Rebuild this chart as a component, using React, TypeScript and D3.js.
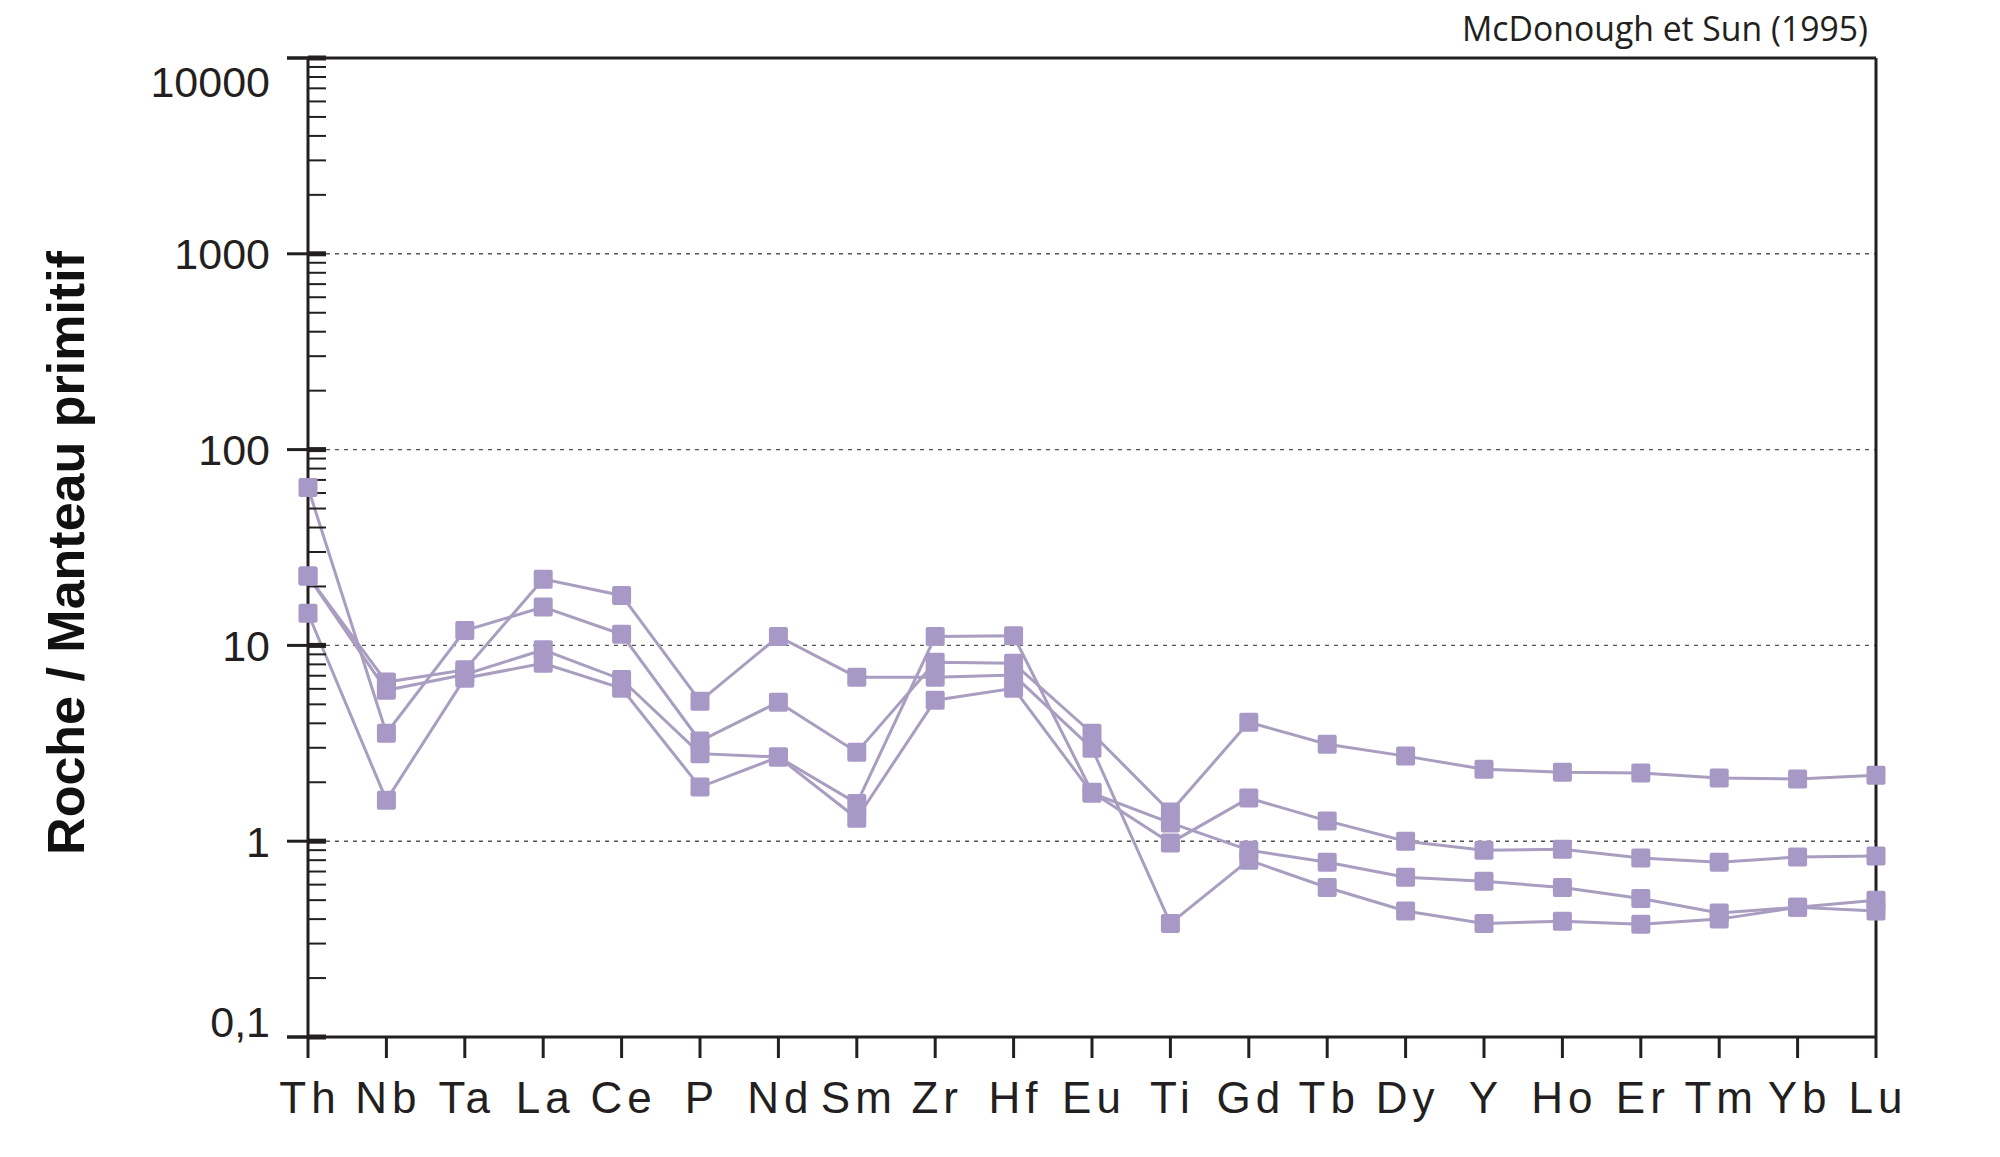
import * as d3 from 'd3';

// Spider diagram, normalised to primitive mantle (McDonough & Sun 1995)
const ELEMENTS = ['Th', 'Nb', 'Ta', 'La', 'Ce', 'P', 'Nd', 'Sm', 'Zr', 'Hf', 'Eu', 'Ti', 'Gd', 'Tb', 'Dy', 'Y', 'Ho', 'Er', 'Tm', 'Yb', 'Lu'];

// values (rock / primitive mantle)
const SAMPLE_1 = [64, 3.56, 11.9, 15.7, 11.4, 3.25, 5.13, 2.85, 8.2, 8.1, 3.56, 1.41, 4.05, 3.13, 2.72, 2.33, 2.25, 2.23, 2.1, 2.08, 2.17];
const SAMPLE_2 = [22.6, 6.5, 7.5, 21.8, 18, 5.19, 11.1, 6.88, 6.88, 7.05, 2.98, 0.38, 0.8, 0.58, 0.44, 0.38, 0.39, 0.377, 0.4, 0.46, 0.44];
const SAMPLE_3 = [22.6, 5.9, 7.1, 9.5, 6.7, 2.8, 2.69, 1.56, 11.1, 11.2, 1.78, 0.98, 1.66, 1.27, 1.0, 0.9, 0.91, 0.82, 0.78, 0.83, 0.84];
const SAMPLE_4 = [14.6, 1.62, 6.8, 8.1, 6.04, 1.89, 2.69, 1.31, 5.25, 6.04, 1.76, 1.24, 0.9, 0.78, 0.655, 0.625, 0.58, 0.51, 0.43, 0.46, 0.5];
const SAMPLES = [SAMPLE_1, SAMPLE_2, SAMPLE_3, SAMPLE_4];

const Y_TICKS = [0.1, 1, 10, 100, 1000, 10000];
const Y_TICK_LABELS = ['0,1', '1', '10', '100', '1000', '10000'];
const GRID_VALUES = [1, 10, 100, 1000];

const width = 2000;
const height = 1157;
const left = 308;
const right = 1876;
const top = 58;
const bottom = 1037;

const INK = '#231f20';
const MARKER = '#a898c6';
const LINE = '#a99dc0';

export default function App() {
  const x = d3.scalePoint<string>().domain(ELEMENTS).range([left, right]);
  const y = d3.scaleLog().domain([0.1, 10000]).range([bottom, top]);

  const line = d3
    .line<number>()
    .x((_, i) => x(ELEMENTS[i]) as number)
    .y((d) => y(d));

  // minor ticks 2..9 in every decade
  const minor: number[] = [];
  for (let e = -1; e < 4; e++) {
    for (let k = 2; k <= 9; k++) minor.push(k * Math.pow(10, e));
  }

  const sq = 19;

  return (
    <div style={{ position: 'absolute', left: 0, top: 0 }}>
      <svg width={width} height={height} style={{ display: 'block', background: '#fff' }}>
        {/* grid */}
        {GRID_VALUES.map((v) => (
          <line key={'g' + v} x1={left + 18} x2={right} y1={y(v)} y2={y(v)}
            stroke="#555" strokeWidth={1.4} strokeDasharray="4,5" />
        ))}

        {/* series lines */}
        {SAMPLES.map((s, i) => (
          <path key={'l' + i} d={line(s) ?? ''} fill="none" stroke={LINE} strokeWidth={3} />
        ))}

        {/* frame */}
        <line x1={left - 21} x2={right} y1={top} y2={top} stroke={INK} strokeWidth={3} />
        <line x1={right} x2={right} y1={top} y2={bottom} stroke={INK} strokeWidth={3} />
        <line x1={left - 21} x2={right} y1={bottom} y2={bottom} stroke={INK} strokeWidth={3} />
        <line x1={left} x2={left} y1={top} y2={bottom} stroke={INK} strokeWidth={3} />

        {/* minor y ticks */}
        {minor.map((v) => (
          <line key={'m' + v} x1={left} x2={left + 18} y1={y(v)} y2={y(v)} stroke={INK} strokeWidth={2} />
        ))}
        {/* major y ticks */}
        {Y_TICKS.map((v) => (
          <g key={'t' + v}>
            <line x1={left - 21} x2={left} y1={y(v)} y2={y(v)} stroke={INK} strokeWidth={3} />
            <line x1={left} x2={left + 18} y1={y(v)} y2={y(v)} stroke={INK} strokeWidth={5} />
          </g>
        ))}
        {Y_TICKS.map((v, i) => {
          const ty = Math.min(Math.max(y(v), top + 24), bottom - 15);
          return (
            <text key={'yl' + v} x={270} y={ty} dy="0.36em" textAnchor="end"
              fontFamily="'Liberation Sans', Arial, sans-serif" fontSize={43} fill={INK}>
              {Y_TICK_LABELS[i]}
            </text>
          );
        })}

        {/* x ticks + labels */}
        {ELEMENTS.map((el) => (
          <g key={'x' + el}>
            <line x1={x(el)} x2={x(el)} y1={bottom} y2={bottom + 21} stroke={INK} strokeWidth={3} />
            <text x={(x(el) as number) + 2} y={1113} textAnchor="middle"
              fontFamily="'Liberation Sans', Arial, sans-serif" fontSize={44} letterSpacing={5} fill={INK}>
              {el}
            </text>
          </g>
        ))}

        {/* markers */}
        {SAMPLES.map((s, i) =>
          s.map((v, j) => (
            <rect key={'p' + i + '-' + j} x={(x(ELEMENTS[j]) as number) - sq / 2} y={y(v) - sq / 2}
              width={sq} height={sq} rx={2} fill={MARKER} />
          ))
        )}

        {/* axis title */}
        <text transform={`translate(84, 553) rotate(-90)`} textAnchor="middle"
          fontFamily="'Liberation Sans', Arial, sans-serif" fontWeight="bold" fontSize={52} fill="#111">
          Roche / Manteau primitif
        </text>

        {/* reference */}
        <text x={1868} y={41} textAnchor="end" fontFamily="'Open Sans', 'Noto Sans', sans-serif"
          fontSize={34} textLength={406} lengthAdjust="spacingAndGlyphs" fill={INK}>
          McDonough et Sun (1995)
        </text>
      </svg>
    </div>
  );
}
